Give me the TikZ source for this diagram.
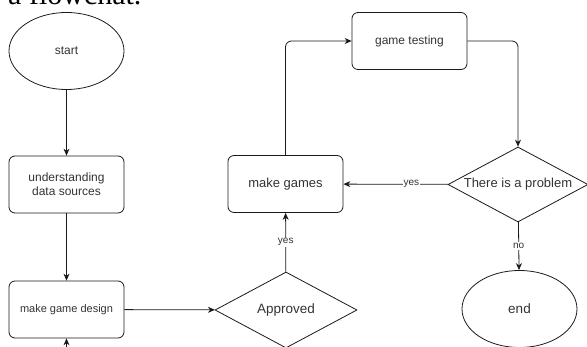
\documentclass[tikz,border=0pt]{standalone}
\usepackage{fontspec}
\setmainfont{Liberation Serif}
\setsansfont{Liberation Sans}
\usetikzlibrary{shapes.geometric,arrows.meta}
\definecolor{txt}{HTML}{333333}
\definecolor{ln}{HTML}{1A1A1A}
\tikzset{
  shp/.style={draw=ln, line width=0.8pt, inner sep=0pt, text=txt, align=center,
    font=\sffamily\fontsize{12}{14}\selectfont},
  rbox/.style={shp, rectangle, rounded corners=6pt, minimum width=115pt, minimum height=57pt},
  oval/.style={shp, ellipse, minimum width=115pt, minimum height=77pt},
  dia/.style={shp, diamond, aspect=1.9},
  conn/.style={draw=ln, line width=0.8pt, -{Stealth[length=7pt,width=6pt]}},
  lab/.style={fill=white, inner sep=1pt, text=txt, font=\sffamily\fontsize{10}{12}\selectfont}
}
\begin{document}
\begin{tikzpicture}[x=1pt, y=-1pt]
\useasboundingbox (0,0) rectangle (587,347);
\clip (0,0) rectangle (587,347);
\node[anchor=base west, inner sep=0pt, font=\fontsize{30}{34}\selectfont] (title) at (8,5) {a flowchat.};
\node[oval] (start) at (66.5,51) {start};
\node[rbox] (und) at (66.5,184.5) {understanding\\data sources};
\node[rbox, font=\sffamily\fontsize{11}{13}\selectfont] (mgd) at (66.5,309.5) {make game design};
\node[dia, minimum width=142pt, minimum height=76pt, font=\sffamily\fontsize{13.5}{15}\selectfont] (appr) at (286,310) {Approved};
\node[rbox, font=\sffamily\fontsize{13}{15}\selectfont] (mg) at (285.5,184) {make games};
\node[rbox] (gt) at (409.5,41) {game testing};
\node[dia, minimum width=140pt, minimum height=75pt, font=\sffamily\fontsize{13}{15}\selectfont] (prob) at (518,184.5) {There is a problem};
\node[oval, font=\sffamily\fontsize{13.5}{15}\selectfont] (end) at (519.5,309) {end};
\coordinate (below) at (66.5,365);

\draw[conn] (start) -- (und);
\draw[conn] (und) -- (mgd);
\draw[conn] (mgd) -- (appr);
\draw[conn] (appr) -- node[lab] {yes} (mg);
\draw[conn, rounded corners=6pt] (mg.north) |- (gt.west);
\draw[conn, rounded corners=6pt] (gt.east) -| (prob.north);
\draw[conn] (prob) -- node[lab, pos=0.35] {yes} (mg);
\draw[conn] (prob) -- node[lab] {no} (end);
\draw[conn] (below) -- (mgd);
\end{tikzpicture}
\end{document}
